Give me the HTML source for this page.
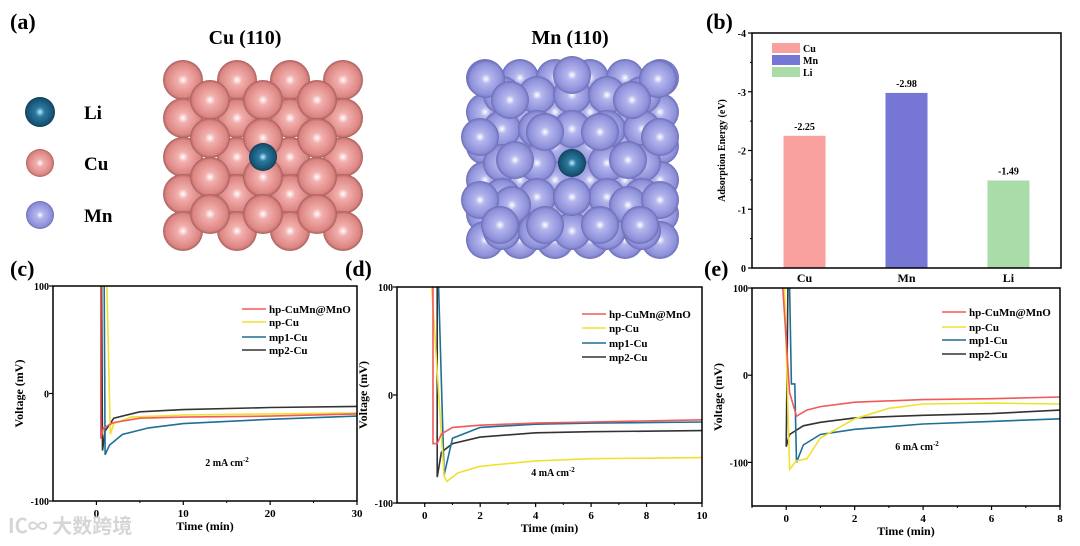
<!DOCTYPE html>
<html><head><meta charset="utf-8"><style>
html,body{margin:0;padding:0;background:#fff;}
svg{display:block;font-family:"Liberation Serif","Noto Serif CJK SC",serif;font-weight:bold;}
</style></head><body>
<svg id="fig" width="1080" height="546" viewBox="0 0 1080 546" xmlns="http://www.w3.org/2000/svg">
<defs>
<radialGradient id="gCu" cx="0.5" cy="0.5" r="0.5"><stop offset="0" stop-color="#fff"/><stop offset="0.25" stop-color="#f2b0ae"/><stop offset="0.85" stop-color="#dc8582"/><stop offset="1" stop-color="#a85f5d"/></radialGradient>
<radialGradient id="gMn" cx="0.5" cy="0.5" r="0.5"><stop offset="0" stop-color="#fff"/><stop offset="0.25" stop-color="#b4b6ee"/><stop offset="0.85" stop-color="#8c8fd8"/><stop offset="1" stop-color="#6a6cb4"/></radialGradient>
<radialGradient id="gLi" cx="0.5" cy="0.5" r="0.5"><stop offset="0" stop-color="#bfefff"/><stop offset="0.3" stop-color="#2d7aa0"/><stop offset="0.9" stop-color="#14506e"/><stop offset="1" stop-color="#0c3850"/></radialGradient>
</defs>
<g id="atoms"></g>
<g id="charts"></g>
</svg>
<script>
// ---- panel b data
const bCats = ["Cu","Mn","Li"];
const bVals = [-2.25,-2.98,-1.49];
const bLabels = ["-2.25","-2.98","-1.49"];
const bTicks = [0,-1,-2,-3,-4];
// ---- panel c data (time min, voltage mV)
const cHpT=[0.5,0.5,0.8,2,5,10,20,30], cHpV=[100,-42,-32,-27,-23,-22,-21,-19];
const cNpT=[1.2,1.6,2,4,10,20,30], cNpV=[100,-38,-28,-22,-20,-19,-18];
const cM1T=[0.9,1.0,1.5,3,6,10,20,30], cM1V=[100,-57,-48,-38,-32,-28,-24,-21];
const cM2T=[0.6,0.7,1,2,5,10,20,30], cM2V=[100,-53,-35,-23,-17,-15,-13,-12];
// ---- panel d data
const dHpT=[0.3,0.3,0.45,0.6,1,2,4,6,10], dHpV=[100,-45,-45,-36,-30,-28,-26,-25,-23];
const dNpT=[0.25,0.7,0.8,1.2,2,4,6,10], dNpV=[100,-75,-80,-72,-66,-61,-59,-58];
const dM1T=[0.5,0.7,1,2,4,6,10], dM1V=[100,-74,-40,-30,-27,-26,-25];
const dM2T=[0.45,0.45,0.6,1,2,4,6,10], dM2V=[100,-76,-53,-45,-39,-35,-34,-33];
// ---- panel e data
const eHpT=[-0.1,0.1,0.3,0.6,1,2,4,6,8], eHpV=[100,-20,-47,-40,-36,-31,-28,-27,-25];
const eNpT=[-0.05,0.1,0.3,0.6,1,2,3,4,6,8], eNpV=[100,-108,-98,-96,-72,-50,-38,-33,-32,-33];
const eM1T=[0.1,0.15,0.25,0.3,0.5,1,2,4,6,8], eM1V=[100,-10,-10,-100,-80,-68,-62,-56,-53,-50];
const eM2T=[0.05,0,0.1,0.5,1,2,4,6,8], eM2V=[100,-82,-68,-58,-54,-49,-46,-44,-40];
const seriesNames=["hp-CuMn@MnO","np-Cu","mp1-Cu","mp2-Cu"];
const seriesColors=["#f05a5a","#f0e030","#1f6f96","#333333"];

const NS="http://www.w3.org/2000/svg";
function mk(tag,attrs,parent,txt){const e=document.createElementNS(NS,tag);for(const k in attrs)e.setAttribute(k,attrs[k]);if(txt!==undefined)e.textContent=txt;parent.appendChild(e);return e;}
const atoms=document.getElementById('atoms');
const charts=document.getElementById('charts');

function label(x,y,s,size,name,anchor){const t=mk('text',{x:x,y:y,'font-size':size,'text-anchor':anchor||'start'},charts,s);

return t;}
label(10,29,"(a)",22,"panel-a-label");
label(706,29,"(b)",22,"panel-b-label");
label(10,276,"(c)",22,"panel-c-label");
label(345,276,"(d)",22,"panel-d-label");
label(704,276,"(e)",22,"panel-e-label");
label(245,44,"Cu (110)",20,"cu-110-title","middle");
label(570,44,"Mn (110)",20,"mn-110-title","middle");

function ball(x,y,r,g,name){const c=mk('circle',{cx:x,cy:y,r:r,fill:'url(#'+g+')'},atoms);

}
ball(40,112,15,'gLi','legend-li-atom');ball(40,163,14,'gCu','legend-cu-atom');ball(40,215,14,'gMn','legend-mn-atom');
label(84,119,"Li",19,"legend-li-text");label(84,170,"Cu",19,"legend-cu-text");label(84,222,"Mn",19,"legend-mn-text");
for(const y of [80,118,157,194,231]) for(const x of [183,237,290,343]) ball(x,y,20,'gCu','cu-atom-back');
for(const y of [100,138,177,214]) for(const x of [210,263,317]) ball(x,y,20,'gCu','cu-atom-front');
ball(263,157,14,'gLi','li-on-cu');
for(const y of [78,112,146,180,214,240]) for(const x of [485,520,555,590,625,660]) ball(x,y,19,'gMn','mn-atom-back');
for(const y of [95,129,163,197,231]) for(const x of [502,537,572,607,642]) {if(!(x===572&&y===163)) ball(x,y,19,'gMn','mn-atom-front');}
for(const [x,y] of [[572,75],[486,79],[658,79],[510,100],[632,100],[545,132],[600,132],[480,137],[660,137],[515,160],[628,160],[512,205],[628,205],[572,197],[480,200],[660,200],[500,225],[545,225],[600,225],[640,225]]) ball(x,y,19,'gMn','mn-atom-top');
ball(572,163,14,'gLi','li-on-mn');

// ---- panel b
(function(){
 const L=752,R=1061,T=33,B=268,min=0,max=-4;
 const g=mk('g',{},charts);
 const ys=v=>B-(v-min)/(max-min)*(B-T);
 const xs=i=>L+(R-L)*(0.17+i*0.33);
 bTicks.forEach(t=>{mk('line',{x1:L-4,x2:L,y1:ys(t),y2:ys(t),stroke:'#000','stroke-width':1.2},g);
  const tl=mk('text',{x:L-6,y:ys(t)+4,'font-size':10,'text-anchor':'end'},g,String(t));});
 for(let t=-0.5;t>-4;t-=1) mk('line',{x1:L-2,x2:L,y1:ys(t),y2:ys(t),stroke:'#000'},g);
 const cols=["#f8a09e","#7676d4","#a9dca9"];
 bCats.forEach((c,i)=>{
  const r=mk('rect',{x:xs(i)-21,y:ys(bVals[i]),width:42,height:B-ys(bVals[i]),fill:cols[i]},g);
  
  const v=mk('text',{x:xs(i),y:ys(bVals[i])-6,'font-size':10,'text-anchor':'middle'},g,bLabels[i]);
  
  const cl=mk('text',{x:xs(i),y:B+14,'font-size':12,'text-anchor':'middle'},g,c);
  
  mk('rect',{x:772,y:43+i*12,width:28,height:10,fill:cols[i]},g);
  const lt=mk('text',{x:803,y:52+i*12,'font-size':10},g,c);
 });
 mk('rect',{x:L,y:T,width:R-L,height:B-T,fill:'none',stroke:'#000','stroke-width':1.5},g);
 const yt=mk('text',{x:0,y:0,'font-size':10,'text-anchor':'middle',transform:`translate(${L-27},${(T+B)/2}) rotate(-90)`},g,"Adsorption Energy (eV)");
 
})();

function linePanel(o){
 const g=mk('g',{},charts);
 const xs=v=>o.L+(v-o.x0)/(o.x1-o.x0)*(o.R-o.L);
 const ys=v=>o.B-(v-o.y0)/(o.y1-o.y0)*(o.B-o.T);
 o.xt.forEach(t=>{mk('line',{x1:xs(t),x2:xs(t),y1:o.B,y2:o.B+4,stroke:'#000','stroke-width':1.2},g);
  const tl=mk('text',{x:xs(t),y:o.B+16,'font-size':11,'text-anchor':'middle'},g,String(t));});
 o.xm.forEach(t=>mk('line',{x1:xs(t),x2:xs(t),y1:o.B,y2:o.B+2,stroke:'#000'},g));
 o.yt.forEach(t=>{mk('line',{x1:o.L-4,x2:o.L,y1:ys(t),y2:ys(t),stroke:'#000','stroke-width':1.2},g);
  const tl=mk('text',{x:o.L-4,y:ys(t)+4,'font-size':10,'text-anchor':'end'},g,String(t));});
 const clip='clip'+o.name;
 const cp=mk('clipPath',{id:clip},g);mk('rect',{x:o.L,y:o.T,width:o.R-o.L,height:o.B-o.T},cp);
 [3,2,1,0].forEach(i=>{const T=o.data[i][0],V=o.data[i][1];
  const p=mk('polyline',{points:T.map((t,k)=>xs(t).toFixed(1)+','+ys(V[k]).toFixed(1)).join(' '),fill:'none',stroke:seriesColors[i],'stroke-width':1.6,'clip-path':`url(#${clip})`},g);
  });
 mk('rect',{x:o.L,y:o.T,width:o.R-o.L,height:o.B-o.T,fill:'none',stroke:'#000','stroke-width':1.5},g);
 seriesNames.forEach((n,i)=>{const y=o.legY[i];
  mk('line',{x1:o.legX,x2:o.legX+24,y1:y,y2:y,stroke:seriesColors[i],'stroke-width':1.6},g);
  const t=mk('text',{x:o.legX+27,y:y+4,'font-size':11},g,n);});
 const an=mk('text',{x:o.ax,y:o.ay,'font-size':10,'text-anchor':'middle'},g);
 an.textContent=o.cur+" mA cm";mk('tspan',{dy:-4,'font-size':7},an,"-2");
 const xt=mk('text',{x:(o.L+o.R)/2,y:o.B+29,'font-size':12,'text-anchor':'middle'},g,"Time (min)");
 const yt=mk('text',{x:0,y:0,'font-size':12,'text-anchor':'middle',transform:`translate(${o.L-30},${(o.T+o.B)/2}) rotate(-90)`},g,"Voltage (mV)");
}
linePanel({name:'panel-c-chart',L:53,R:357,T:286,B:501,x0:-5,x1:30,y0:-100,y1:100,xt:[0,10,20,30],xm:[5,15,25],yt:[100,0,-100],
 data:[[cHpT,cHpV],[cNpT,cNpV],[cM1T,cM1V],[cM2T,cM2V]],legX:242,legY:[309,322,337,350],ax:227,ay:466,cur:2});
linePanel({name:'panel-d-chart',L:397,R:702,T:287,B:503,x0:-1,x1:10,y0:-100,y1:100,xt:[0,2,4,6,8,10],xm:[1,3,5,7,9],yt:[100,0,-100],
 data:[[dHpT,dHpV],[dNpT,dNpV],[dM1T,dM1V],[dM2T,dM2V]],legX:582,legY:[314,328,343,357],ax:553,ay:476,cur:4});
linePanel({name:'panel-e-chart',L:752,R:1060,T:288,B:506,x0:-1,x1:8,y0:-150,y1:100,xt:[0,2,4,6,8],xm:[-1,1,3,5,7],yt:[100,0,-100],
 data:[[eHpT,eHpV],[eNpT,eNpV],[eM1T,eM1V],[eM2T,eM2V]],legX:942,legY:[312,327,340,354],ax:917,ay:450,cur:6});
const wm=mk('text',{x:8,y:533,'font-size':20,fill:'#d6d6d6','font-family':'"Noto Sans CJK SC",sans-serif'},charts,"IC∞ 大数跨境");


</script>
</body></html>
